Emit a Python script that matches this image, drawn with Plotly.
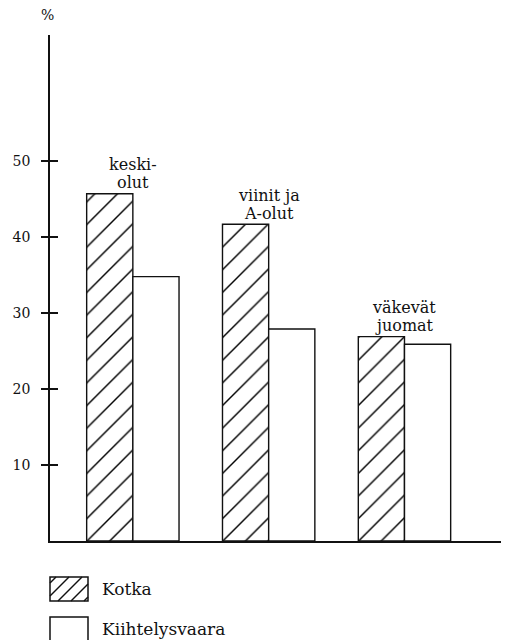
import plotly.graph_objects as go

categories = ["keski-<br>olut", "viinit ja<br>A-olut", "väkevät<br>juomat"]
series_names = ["Kotka", "Kiihtelysvaara"]
kotka = [45.7, 41.7, 26.9]
kiihtelysvaara = [34.8, 27.9, 25.9]
y_ticks = [10, 20, 30, 40, 50]

FONT = "DejaVu Serif"
INK = "#111111"

# page body has an 8px margin; work in reference pixel coords and shift
OFF = 8
W, H = 509 - OFF, 640 - OFF
L, R, T, B = 50 - OFF, 4, 35 - OFF, 99
PW, PH = W - L - R, H - T - B


def px_x(px):
    return (px - OFF - L) / PW


def px_y(py):
    return (H - B - (py - OFF)) / PH


fig = go.Figure()
fig.add_trace(go.Bar(
    x=categories, y=kotka, name=series_names[0],
    marker=dict(color="white", line=dict(color=INK, width=1.4),
                pattern=dict(shape="/", fgcolor="#000000", fgopacity=1, bgcolor="white",
                             size=16, solidity=0.09)),
    showlegend=False,
))
fig.add_trace(go.Bar(
    x=categories, y=kiihtelysvaara, name=series_names[1],
    marker=dict(color="white", line=dict(color=INK, width=1.4)),
    showlegend=False,
))
# helper trace so the inner tick axis is drawn
fig.add_trace(go.Scatter(x=categories, y=[None] * 3, yaxis="y2", mode="markers",
                         showlegend=False, hoverinfo="skip"))

# category labels above each group, one annotation per line
for c, a, b in zip(categories, kotka, kiihtelysvaara):
    lines = c.split("<br>")
    n = len(lines)
    for i, ln in enumerate(lines):
        fig.add_annotation(x=c, y=max(a, b), xref="x", yref="y", text=ln, showarrow=False,
                           yanchor="middle", yshift=11 + 18 * (n - 1 - i), align="center",
                           font=dict(family=FONT, size=16, color=INK))

# "%" axis label
fig.add_annotation(x=px_x(47), y=px_y(15), xref="paper", yref="paper", text="%",
                   showarrow=False, xanchor="center", yanchor="middle",
                   font=dict(family=FONT, size=14, color=INK))

# manual legend
shapes = []
boxes = [(50, 577, 88, 601, True), (50, 617, 88, 641, False)]
for (x0, y0, x1, y1, hatch), name in zip(boxes, series_names):
    shapes.append(dict(type="rect", xref="paper", yref="paper",
                       x0=px_x(x0), x1=px_x(x1), y0=px_y(y1), y1=px_y(y0),
                       line=dict(color=INK, width=1.5), fillcolor="white", layer="above"))
    if hatch:
        step = 13
        c = x0 + y0 + 6
        while c < x1 + y1:
            pts = []
            for yy in (y0, y1):
                xx = c - yy
                if x0 <= xx <= x1:
                    pts.append((xx, yy))
            for xx in (x0, x1):
                yy = c - xx
                if y0 <= yy <= y1:
                    pts.append((xx, yy))
            pts = sorted(set(pts))
            if len(pts) >= 2:
                (ax, ay), (bx, by) = pts[0], pts[-1]
                shapes.append(dict(type="line", xref="paper", yref="paper",
                                   x0=px_x(ax), y0=px_y(ay), x1=px_x(bx), y1=px_y(by),
                                   line=dict(color=INK, width=1.4), layer="above"))
            c += step
    fig.add_annotation(x=px_x(100), y=px_y((y0 + y1) / 2), xref="paper", yref="paper",
                       text=name, showarrow=False, xanchor="left", yanchor="middle",
                       font=dict(family=FONT, size=17, color=INK))

fig.update_layout(
    width=W, height=H,
    margin=dict(l=L, r=R, t=T, b=B, pad=0, autoexpand=False),
    paper_bgcolor="white", plot_bgcolor="white",
    barmode="group", bargap=0.32, bargroupgap=0,
    shapes=shapes,
    xaxis=dict(range=[-0.61, 2.74], showticklabels=False, ticks="", showgrid=False,
               zeroline=False, showline=True, linecolor=INK, linewidth=1.5, automargin=False),
    yaxis=dict(range=[0, 66.6], tickvals=y_ticks, ticks="outside", ticklen=7,
               tickwidth=1.5, tickcolor=INK, showgrid=False, zeroline=False,
               showline=True, linecolor=INK, linewidth=1.5, automargin=False,
               ticklabelstandoff=8,
               tickfont=dict(family=FONT, size=14, color=INK)),
    yaxis2=dict(overlaying="y", matches="y", side="left", tickvals=y_ticks,
                ticks="inside", ticklen=8, tickwidth=1.5, tickcolor=INK,
                showticklabels=False, showgrid=False, zeroline=False, showline=False),
)

fig.write_html("out.html")
